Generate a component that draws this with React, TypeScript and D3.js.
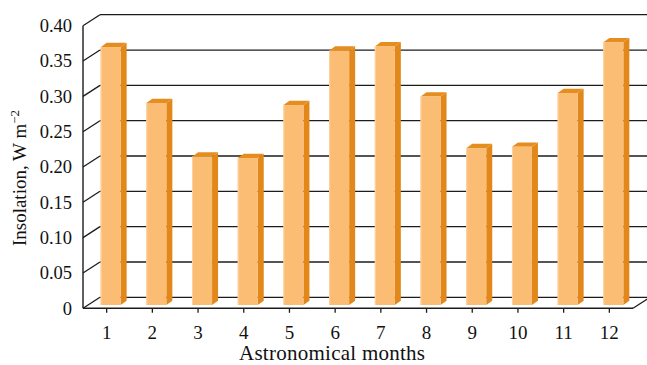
import React from "react";
import * as d3 from "d3";

// Mean insolation per astronomical month
const months = ["1", "2", "3", "4", "5", "6", "7", "8", "9", "10", "11", "12"];
const insolation = [0.365, 0.286, 0.21, 0.208, 0.283, 0.36, 0.366, 0.295, 0.222, 0.224, 0.3, 0.372];
const yTicks = [0, 0.05, 0.1, 0.15, 0.2, 0.25, 0.3, 0.35, 0.4];
const yTickLabels = ["0", "0.05", "0.10", "0.15", "0.20", "0.25", "0.30", "0.35", "0.40"];

const W = 647;
const H = 365;
const FONT = "Liberation Serif, Times New Roman, serif";

// Plot frame (front plane) and wall depth
const left = 83;
const right = 633;
const depthX = 17;
const depthY = -11;

// Bar geometry
const barW = 20;
const barOffX = 4;
const barOffY = -3.3;
const barDX = 6;
const barDY = -4.3;

const FRONT = "#FBBC74";
const SIDE = "#E2881B";
const TOP = "#E68D1F";
const LINE = "#1c1c1c";
const TEXT = "#111";

const textStyle = { fontFamily: FONT };

export default function App() {
  const x = d3.scaleBand<string>().domain(months).range([83.8, 632.2]).padding(0);
  const y = d3.scaleLinear().domain([0, 0.4]).range([308.3, 25.7]);

  const cx = (m: string) => (x(m) ?? 0) + x.bandwidth() / 2;

  return (
    <svg
      width={W}
      height={H}
      style={{ position: "fixed", left: 0, top: 0, background: "#fff", fontFamily: FONT }}
    >
      {/* back wall gridlines and left wall diagonals */}
      {yTicks.map((t) => (
        <g key={t}>
          <line
            x1={left}
            y1={y(t)}
            x2={left + depthX}
            y2={y(t) + depthY}
            stroke={LINE}
            strokeWidth={1.3}
          />
          <line
            x1={left + depthX}
            y1={y(t) + depthY}
            x2={right + depthX}
            y2={y(t) + depthY}
            stroke={LINE}
            strokeWidth={1.3}
          />
        </g>
      ))}

      {/* floor: front edge and right diagonal */}
      <line x1={left} y1={y(0)} x2={right} y2={y(0)} stroke={LINE} strokeWidth={1.4} />
      <line
        x1={right}
        y1={y(0)}
        x2={right + depthX}
        y2={y(0) + depthY}
        stroke={LINE}
        strokeWidth={1.3}
      />
      {/* vertical axis */}
      <line x1={left} y1={y(0.4)} x2={left} y2={y(0)} stroke={LINE} strokeWidth={1.4} />

      {/* bars */}
      {months.map((m, i) => {
        const v = insolation[i];
        const x0 = cx(m) + barOffX - barW / 2;
        const x1 = x0 + barW;
        const yb = y(0) + barOffY;
        const yt = y(v) + barOffY;
        const side = `M${x1},${yb} L${x1 + barDX},${yb + barDY} L${x1 + barDX},${yt + barDY} L${x1},${yt} Z`;
        const top = `M${x0},${yt} L${x0 + barDX},${yt + barDY} L${x1 + barDX},${yt + barDY} L${x1},${yt} Z`;
        return (
          <g key={m}>
            <path d={side} fill={SIDE} />
            <path d={top} fill={TOP} />
            <rect x={x0} y={yt} width={barW} height={yb - yt} fill={FRONT} />
            <line x1={x0 + 0.5} y1={yt} x2={x0 + 0.5} y2={yb} stroke="#FDD3A0" strokeWidth={1} />
          </g>
        );
      })}

      {/* x ticks and labels */}
      {months.map((m) => (
        <g key={m}>
          <line x1={cx(m)} y1={y(0)} x2={cx(m)} y2={y(0) + 4.5} stroke={LINE} strokeWidth={1.3} />
          <text x={cx(m)} y={339} textAnchor="middle" fontSize={19} fill={TEXT} style={textStyle}>
            {m}
          </text>
        </g>
      ))}

      {/* y tick labels */}
      {yTicks.map((t, i) => (
        <text
          key={t}
          x={72}
          y={y(t)}
          dy="0.34em"
          textAnchor="end"
          fontSize={18.5}
          fill={TEXT}
          style={textStyle}
        >
          {yTickLabels[i]}
        </text>
      ))}

      {/* axis titles */}
      <text
        x={332}
        y={360}
        textAnchor="middle"
        fontSize={21}
        fill={TEXT}
        style={textStyle}
        textLength={186}
        lengthAdjust="spacing"
      >
        Astronomical months
      </text>
      <text
        transform="translate(26,178) rotate(-90)"
        textAnchor="middle"
        fontSize={19}
        fill={TEXT}
        style={textStyle}
      >
        Insolation, W m
        <tspan dy={-7} fontSize={13}>
          −2
        </tspan>
      </text>
    </svg>
  );
}
